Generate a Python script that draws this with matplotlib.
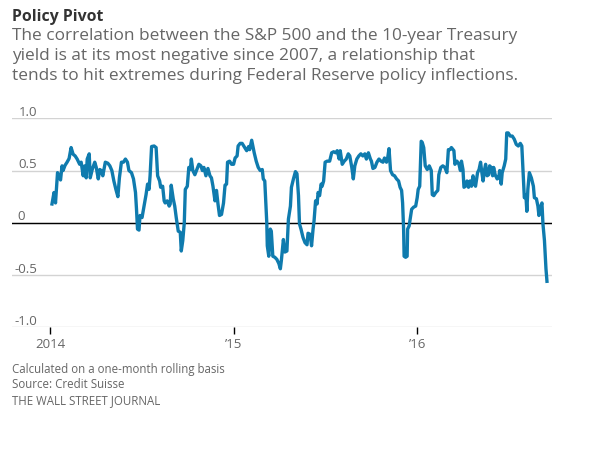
import matplotlib
matplotlib.use("Agg")
import matplotlib.pyplot as plt
import numpy as np

# ---- data: days since 2014-01-01, correlation value ----
days = [4, 8, 11, 15, 18, 21, 24, 26, 30, 34, 38, 42, 46, 50, 54, 59, 62, 66, 69, 72,
        74, 78, 80, 84, 89, 92, 96, 99, 102, 105, 110, 115, 119, 123, 127, 131, 135, 138, 142, 146,
        150, 154, 157, 162, 166, 170, 172, 174, 177, 179, 183, 187, 191, 194, 197, 199, 202, 207, 211, 214,
        218, 220, 224, 227, 229, 233, 237, 239, 241, 245, 248, 251, 255, 259, 261, 264, 267, 269, 273, 276,
        279, 281, 284, 288, 292, 296, 300, 303, 306, 310, 314, 318, 321, 324, 328, 331, 334, 337, 341, 345,
        348, 351, 353, 357, 361, 365, 368, 372, 374, 378, 382, 387, 391, 395, 397, 401, 406, 410, 414, 418,
        422, 424, 427, 429, 431, 432, 435, 438, 440, 443, 447, 451, 455, 458, 460, 464, 467, 471, 474, 478,
        480, 484, 488, 491, 494, 496, 499, 503, 507, 511, 513, 517, 520, 523, 525, 528, 531, 533, 536, 539,
        541, 544, 547, 551, 556, 560, 564, 568, 571, 575, 577, 581, 585, 589, 593, 596, 600, 603, 606, 610,
        614, 618, 622, 626, 629, 633, 637, 639, 642, 646, 650, 654, 658, 662, 665, 669, 671, 674, 677, 681,
        685, 689, 693, 696, 699, 701, 703, 704, 707, 710, 711, 714, 716, 719, 723, 727, 730, 732, 735, 738,
        740, 743, 746, 750, 754, 758, 760, 763, 767, 771, 773, 777, 781, 785, 789, 792, 795, 798, 803, 805,
        809, 813, 816, 818, 821, 823, 826, 829, 832, 835, 838, 841, 844, 846, 850, 853, 856, 858, 861, 864,
        866, 869, 872, 874, 877, 880, 882, 885, 889, 892, 894, 897, 899, 903, 906, 908, 911, 915, 919, 923,
        927, 931, 935, 938, 941, 943, 946, 948, 950, 953, 957, 961, 963, 967, 970, 972, 975, 978, 980, 983,
        986, 988]
corr = [0.18, 0.29, 0.19, 0.48, 0.45, 0.41, 0.545, 0.50, 0.55, 0.58, 0.615, 0.72, 0.656, 0.64, 0.61, 0.56, 0.58, 0.45, 0.545, 0.43,
        0.61, 0.66, 0.43, 0.51, 0.58, 0.53, 0.42, 0.51, 0.50, 0.45, 0.58, 0.57, 0.545, 0.50, 0.40, 0.32, 0.25, 0.43, 0.58, 0.58,
        0.61, 0.58, 0.50, 0.48, 0.42, 0.29, 0.13, -0.06, -0.07, 0.07, 0.05, 0.16, 0.27, 0.37, 0.32, 0.45, 0.73, 0.735, 0.72, 0.45,
        0.40, 0.34, 0.35, 0.21, 0.19, 0.21, 0.16, 0.18, 0.36, 0.23, 0.16, 0.05, -0.08, -0.09, -0.27, -0.17, 0.00, 0.32, 0.35, 0.53,
        0.51, 0.61, 0.50, 0.46, 0.51, 0.56, 0.545, 0.50, 0.53, 0.45, 0.52, 0.45, 0.43, 0.35, 0.21, 0.31, 0.18, 0.07, 0.08, 0.19,
        0.36, 0.37, 0.58, 0.59, 0.56, 0.56, 0.62, 0.64, 0.735, 0.76, 0.76, 0.72, 0.69, 0.73, 0.70, 0.79, 0.67, 0.59, 0.53, 0.50,
        0.51, 0.42, 0.40, 0.19, 0.00, -0.22, -0.32, -0.06, -0.08, -0.32, -0.33, -0.35, -0.39, -0.44, -0.36, -0.16, -0.28, -0.27, 0.035, 0.16,
        0.34, 0.42, 0.49, 0.47, 0.26, -0.01, -0.06, -0.14, -0.19, -0.21, -0.10, -0.11, -0.22, -0.06, 0.02, 0.21, 0.18, 0.29, 0.26, 0.37,
        0.35, 0.40, 0.58, 0.59, 0.59, 0.67, 0.68, 0.67, 0.69, 0.61, 0.69, 0.56, 0.59, 0.61, 0.66, 0.64, 0.53, 0.42, 0.545, 0.61,
        0.64, 0.66, 0.64, 0.66, 0.61, 0.67, 0.61, 0.59, 0.52, 0.53, 0.58, 0.61, 0.59, 0.58, 0.62, 0.58, 0.61, 0.71, 0.50, 0.46,
        0.45, 0.42, 0.40, 0.34, 0.31, 0.19, -0.06, -0.32, -0.33, -0.32, -0.06, -0.03, 0.035, 0.13, 0.15, 0.16, 0.24, 0.32, 0.35, 0.78,
        0.77, 0.72, 0.545, 0.51, 0.545, 0.50, 0.27, 0.26, 0.29, 0.31, 0.46, 0.53, 0.545, 0.53, 0.48, 0.70, 0.70, 0.72, 0.69, 0.56,
        0.59, 0.56, 0.50, 0.59, 0.51, 0.34, 0.35, 0.40, 0.34, 0.40, 0.35, 0.45, 0.37, 0.35, 0.48, 0.51, 0.58, 0.50, 0.40, 0.51,
        0.56, 0.45, 0.46, 0.545, 0.53, 0.45, 0.53, 0.46, 0.42, 0.43, 0.50, 0.37, 0.48, 0.545, 0.61, 0.86, 0.86, 0.83, 0.83, 0.80,
        0.75, 0.735, 0.76, 0.735, 0.45, 0.24, 0.27, 0.11, 0.32, 0.48, 0.43, 0.35, 0.24, 0.23, 0.16, 0.07, 0.15, 0.19, -0.01, -0.17,
        -0.44, -0.56]

year_ticks = [0, 365, 730]
year_labels = ["2014", "\u201915", "\u201916"]
y_ticks = [-1.0, -0.5, 0.0, 0.5, 1.0]
y_labels = ["-1.0", "-0.5", "0", "0.5", "1.0"]

title = "Policy Pivot"
subtitle = ["The correlation between the S&P 500 and the 10-year Treasury",
            "yield is at its most negative since 2007, a relationship that",
            "tends to hit extremes during Federal Reserve policy inflections."]
notes = ["Calculated on a one-month rolling basis",
         "Source: Credit Suisse",
         "THE WALL STREET JOURNAL"]

W, H = 591, 449
plt.rcParams['font.family'] = ['Open Sans', 'DejaVu Sans']
fig = plt.figure(figsize=(W / 100, H / 100), dpi=100)

def fx(px):
    return px / W

def fy(py):
    return 1 - py / H

ax_left, ax_right = 12, 552
ax_top, ax_bottom = 118.3, 327.3
ax = fig.add_axes([fx(ax_left), fy(ax_bottom), fx(ax_right - ax_left), (ax_bottom - ax_top) / H])

ax.set_ylim(-1, 1)
ax.set_xlim(-75.5, 998)

for s in ax.spines.values():
    s.set_visible(False)

for v in y_ticks:
    ax.axhline(v, color="#d3d3d3", lw=1.0, zorder=1)
ax.axhline(0, color="black", lw=1.0, zorder=2)

ax.plot(days, corr, color="#0f7bae", lw=2.4, solid_joinstyle="round", zorder=3)

ax.set_yticks([])
ax.set_xticks(year_ticks)
ax.set_xticklabels(year_labels, fontsize=9.5, color="#666666")
ax.tick_params(axis="x", length=5, width=1.0, color="black", pad=2.5)

# y labels above gridlines
for v, lab in zip(y_ticks, y_labels):
    if lab == "0":
        ax.annotate(lab, xy=(17, v), xycoords=("figure pixels", "data"),
                    xytext=(0, 1.8), textcoords="offset points",
                    ha="left", va="baseline", fontsize=9.5, color="#666666")
    else:
        ax.annotate(lab, xy=(37, v), xycoords=("figure pixels", "data"),
                    xytext=(0, 1.8), textcoords="offset points",
                    ha="right", va="baseline", fontsize=9.5, color="#666666")

fig.text(fx(12), fy(21), title, fontsize=11.4, fontweight="bold", color="#333333", va="baseline")
for i, line in enumerate(subtitle):
    fig.text(fx(12), fy(39.5 + i * 20.5), line, fontsize=12.4, color="#666666", va="baseline")
for i, line in enumerate(notes):
    fig.text(fx(12), fy(372.5 + i * 15.8), line, fontsize=8.3, color="#666666", va="baseline")

fig.savefig("out.png", dpi=100)
